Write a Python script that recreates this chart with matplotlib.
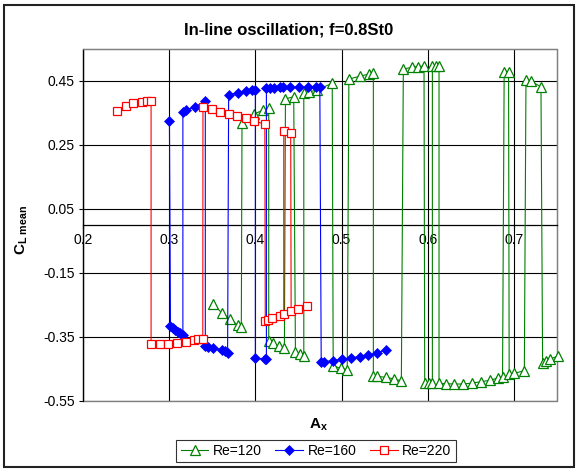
import matplotlib
matplotlib.use('Agg')
import matplotlib.pyplot as plt
from matplotlib.patches import Rectangle

plt.rcParams['font.family'] = ['Liberation Sans', 'DejaVu Sans']
plt.rcParams['axes.unicode_minus'] = False
plt.rcParams['mathtext.fontset'] = 'custom'
plt.rcParams['mathtext.rm'] = 'Liberation Sans'
plt.rcParams['mathtext.bf'] = 'Liberation Sans:bold'
plt.rcParams['mathtext.it'] = 'Liberation Sans:italic'

title = "In-line oscillation; f=0.8St0"
series_names = ["Re=120", "Re=160", "Re=220"]

# Re=120 (path in data order, jumping between branches)
re120_x = [0.3508, 0.3612, 0.3701, 0.3794, 0.3837,
           0.3845, 0.3988, 0.4089, 0.4155,
           0.4155, 0.4205, 0.4270, 0.4337,
           0.4349, 0.4445,
           0.4465, 0.4523, 0.4562,
           0.4562, 0.4620, 0.4717, 0.4892,
           0.4903, 0.4988, 0.5066,
           0.5085, 0.5213, 0.5318, 0.5369,
           0.5369, 0.5413, 0.5512, 0.5608, 0.5694,
           0.5717, 0.5822, 0.5890, 0.5957,
           0.5965, 0.6010, 0.6054,
           0.6054, 0.6093, 0.6131,
           0.6131, 0.6210, 0.6306, 0.6410, 0.6512, 0.6616, 0.6724, 0.6817, 0.6868,
           0.6887, 0.6938,
           0.6945, 0.7000, 0.7121,
           0.7140, 0.7198, 0.7314,
           0.7333, 0.7370, 0.7420, 0.7515]
re120_y = [-0.247, -0.275, -0.294, -0.3125, -0.320,
           0.319, 0.347, 0.359, 0.367,
           -0.361, -0.370, -0.379, -0.384,
           0.394, 0.401,
           -0.398, -0.403, -0.408,
           0.411, 0.416, 0.422, 0.443,
           -0.440, -0.448, -0.452,
           0.456, 0.465, 0.472, 0.475,
           -0.471, -0.473, -0.476, -0.481, -0.487,
           0.4875, 0.493, 0.495, 0.496,
           -0.494, -0.495, -0.495,
           0.496, 0.496, 0.496,
           -0.495, -0.496, -0.497, -0.497, -0.494, -0.490, -0.485, -0.478, -0.474,
           0.477, 0.477,
           -0.466, -0.464, -0.455,
           0.454, 0.449, 0.432,
           -0.432, -0.426, -0.419, -0.409]

# Re=160
re160_x = [0.3003,
           0.3015, 0.3043, 0.3070, 0.3097, 0.3128, 0.3159,
           0.3159, 0.3198, 0.3302, 0.3419,
           0.3419, 0.3450, 0.3503, 0.3612, 0.3651, 0.3678,
           0.3690, 0.3795, 0.3892, 0.3962, 0.4000,
           0.4000, 0.4108, 0.4128,
           0.4128, 0.4174, 0.4213, 0.4290, 0.4320, 0.4407, 0.4504, 0.4608, 0.4698, 0.4748,
           0.4764, 0.4794, 0.4903, 0.5008, 0.5108, 0.5209, 0.5310, 0.5415, 0.5515]
re160_y = [0.324,
           -0.317, -0.3225, -0.328, -0.333, -0.339, -0.344,
           0.352, 0.358, 0.370, 0.387,
           -0.377, -0.380, -0.383, -0.391, -0.395, -0.399,
           0.407, 0.4135, 0.418, 0.421, 0.422,
           -0.416, -0.419, -0.420,
           0.427, 0.428, 0.429, 0.431, 0.431, 0.431, 0.431, 0.431, 0.431, 0.431,
           -0.427, -0.427, -0.424, -0.419, -0.416, -0.411, -0.407, -0.400, -0.390]

# Re=220
re220_x = [0.2400, 0.2497, 0.2585, 0.2683, 0.2741, 0.2790,
           0.2790, 0.2888, 0.2988, 0.3090, 0.3190, 0.3291, 0.3329, 0.3390,
           0.3392, 0.3496, 0.3593, 0.3690, 0.3787, 0.3892, 0.3988, 0.4110,
           0.4115, 0.4147, 0.4194, 0.4290, 0.4330,
           0.4330, 0.4410,
           0.4415, 0.4490, 0.4600]
re220_y = [0.355, 0.373, 0.380, 0.385, 0.386, 0.386,
           -0.372, -0.372, -0.372, -0.369, -0.367, -0.359, -0.357, -0.356,
           0.370, 0.3625, 0.354, 0.347, 0.342, 0.333, 0.325, 0.315,
           -0.301, -0.298, -0.292, -0.283, -0.277,
           0.295, 0.288,
           -0.269, -0.261, -0.253]

x_ticks = [0.2, 0.3, 0.4, 0.5, 0.6, 0.7]
x_tick_labels = ["0.2", "0.3", "0.4", "0.5", "0.6", "0.7"]
y_ticks = [0.45, 0.25, 0.05, -0.15, -0.35, -0.55]
y_tick_labels = ["0.45", "0.25", "0.05", "-0.15", "-0.35", "-0.55"]

W, H = 579, 472
fig = plt.figure(figsize=(W / 100, H / 100), dpi=100)
ax = fig.add_axes([83 / W, 1 - 401 / H, (557 - 83) / W, (401 - 49) / H])

ax.set_xlim(0.2, 0.75)
ax.set_ylim(-0.55, 0.55)

ax.set_axisbelow(True)
ax.set_xticks(x_ticks)
ax.set_xticklabels(x_tick_labels, fontsize=10)
ax.set_yticks(y_ticks)
ax.set_yticklabels(y_tick_labels, fontsize=10)
ax.grid(True, color='black', linewidth=0.8)
ax.tick_params(axis='both', direction='out', length=3, width=0.8, pad=3, colors='black')

ax.spines['bottom'].set_position(('data', 0))
ax.spines['bottom'].set_color('black')
ax.spines['bottom'].set_linewidth(0.9)
ax.spines['left'].set_color('black')
ax.spines['left'].set_linewidth(0.9)
ax.spines['top'].set_color('#808080')
ax.spines['right'].set_color('#808080')
ax.add_patch(Rectangle((0, 0), 1, 1, transform=ax.transAxes, fill=False,
                       ec='#808080', lw=1.0, clip_on=False, zorder=0.6))

l1, = ax.plot(re120_x, re120_y, color='#008000', lw=0.8, marker='^', ms=7.5,
              mfc='white', mec='#008000', mew=0.9, clip_on=False, label=series_names[0], zorder=3)
l2, = ax.plot(re160_x, re160_y, color='#0000FF', lw=0.8, marker='D', ms=5.2,
              mfc='#0000FF', mec='#0000FF', mew=0.5, clip_on=False, label=series_names[1], zorder=4)
l3, = ax.plot(re220_x, re220_y, color='#FF0000', lw=0.8, marker='s', ms=5.8,
              mfc='white', mec='#FF0000', mew=0.9, clip_on=False, label=series_names[2], zorder=5)

fig.text(289 / W, 1 - 30 / H, title, ha='center', va='center', fontsize=12, fontweight='bold')
fig.text(22 / W, 1 - 230 / H, r'$\mathbf{C_{L\ mean}}$', ha='center', va='center',
         rotation=90, fontsize=11)
fig.text(318 / W, 1 - 425 / H, r'$\mathbf{A_x}$', ha='center', va='center', fontsize=11)

leg = fig.legend(handles=[l1, l2, l3], loc='center', bbox_to_anchor=(316 / W, 1 - 451 / H),
                 ncol=3, fontsize=10, frameon=True, fancybox=False, shadow=False,
                 handlelength=2.0, handletextpad=0.3, columnspacing=1.0,
                 borderpad=0.3, edgecolor='black')
leg.get_frame().set_linewidth(0.8)

fig.patches.append(Rectangle((4 / W, 1 - 467 / H), 570 / W, 462 / H, transform=fig.transFigure,
                             fill=False, ec='#222222', lw=1.5))

fig.savefig('out.png', dpi=100)
